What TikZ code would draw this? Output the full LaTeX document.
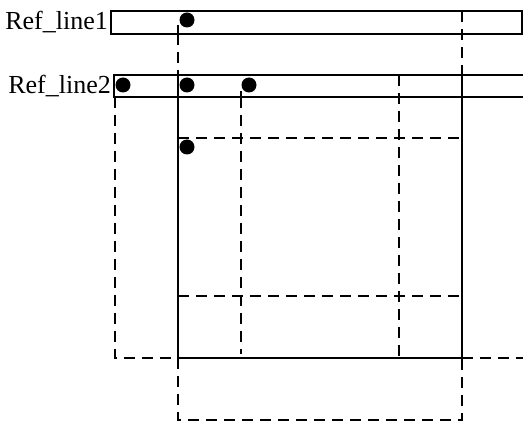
\documentclass[tikz,border=0pt]{standalone}
\usepackage{fontspec}
\setmainfont{Liberation Serif}
\begin{document}
\begin{tikzpicture}[x=1pt,y=-1pt,
  solidline/.style={line width=1.8pt},
  dashline/.style={line width=1.8pt, dash pattern=on 11pt off 7pt},
  reflabel/.style={font=\fontsize{26}{26}\selectfont, anchor=east, inner sep=0pt},
  pin/.style={circle, fill=black, inner sep=0pt, minimum size=15pt}]
  \useasboundingbox (0,0) rectangle (523,422);

  % reference strips
  \draw[solidline] (111,11) rectangle (522,34);
  \draw[solidline] (525,75) -- (114,75) -- (114,97) -- (525,97);
  \node[reflabel] (l1) at (108,22) {Ref\_line1};
  \node[reflabel] (l2) at (111,86) {Ref\_line2};

  % key coordinates
  \coordinate (a1) at (178,25);  \coordinate (a2) at (178,34);
  \coordinate (a3) at (178,75);  \coordinate (a4) at (178,358);
  \coordinate (a5) at (178,420);
  \coordinate (b1) at (462,11);  \coordinate (b2) at (462,75);
  \coordinate (b3) at (462,358); \coordinate (b4) at (462,420);
  \coordinate (c1) at (241,91);  \coordinate (c2) at (241,97);
  \coordinate (c3) at (241,354);
  \coordinate (d1) at (115,97);  \coordinate (d2) at (115,358);
  \coordinate (e1) at (399,75);  \coordinate (e2) at (399,358);
  \coordinate (r1) at (523,358);

  % solid frame
  \draw[solidline] (a1) -- (a2);
  \draw[solidline] (a3) -- (a4) -- (b3) -- (b2);
  \draw[solidline] (c1) -- (c2);

  % dashed guides
  \draw[dashline] (a2) -- (a3);
  \draw[dashline] (b1) -- (b2);
  \draw[dashline] (a4) -- (a5) -- (b4) -- (b3);
  \draw[dashline] (c2) -- (c3);
  \draw[dashline] (d1) -- (d2) -- (a4);
  \draw[dashline] (b3) -- (r1);
  \draw[dashline] (e1) -- (e2);
  \draw[dashline] (178,138) -- (462,138);
  \draw[dashline] (178,296) -- (462,296);

  % pins
  \node[pin] (p1) at (187,20) {};
  \node[pin] (p2) at (123,85) {};
  \node[pin] (p3) at (187,85) {};
  \node[pin] (p4) at (249,85) {};
  \node[pin] (p5) at (187,147) {};
\end{tikzpicture}
\end{document}
